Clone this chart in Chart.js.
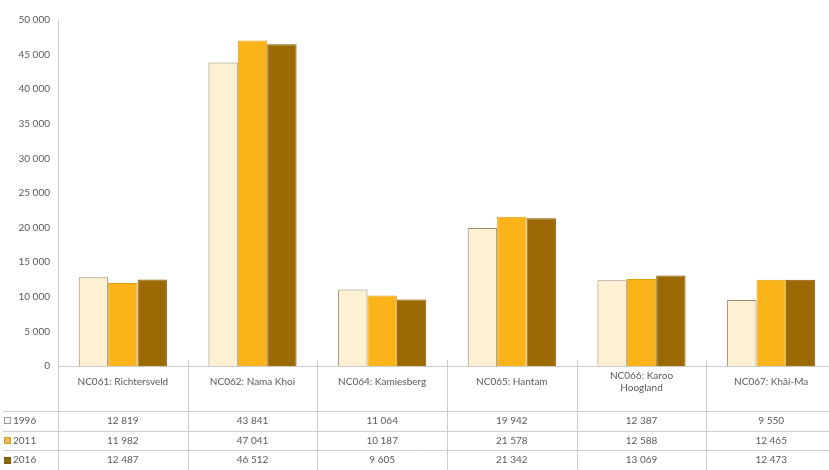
<!DOCTYPE html>
<html>
<head>
<meta charset="utf-8">
<script src="https://cdn.jsdelivr.net/npm/chart.js@4"></script>
<style>
  html, body { margin: 0; padding: 0; background: #fff; overflow: hidden; }
  #wrap { width: 840px; height: 470px; }
</style>
</head>
<body>
<div id="wrap"><canvas id="c" width="840" height="470"></canvas></div>
<script>
// Population per local municipality (Namakwa district)
const categories = ['NC061: Richtersveld', 'NC062: Nama Khoi', 'NC064: Kamiesberg', 'NC065: Hantam', ['NC066: Karoo', 'Hoogland'], 'NC067: Khâi-Ma'];
const seriesNames = ['1996', '2011', '2016'];
const values1996 = [12819, 43841, 11064, 19942, 12387, 9550];
const values2011 = [11982, 47041, 10187, 21578, 12588, 12465];
const values2016 = [12487, 46512, 9605, 21342, 13069, 12473];
const yMax = 50000;
const yStep = 5000;

const FONT = 'Lato, "Open Sans", sans-serif';
const TEXT = '#5a5a5a';
const LINE = '#cccccc';

const fills = ['#fef1d3', '#fbb31a', '#9c6a04'];
const borders = ['#9a8a6c', '#e0a010', '#86590a'];
const keyFills = ['#ffffff', '#e6b567', '#8a6a10'];

const fmt = v => String(v).replace(/\B(?=(\d{3})+(?!\d))/g, ' ');

const seriesValues = [values1996, values2011, values2016];

// Data table drawn under the category axis
const dataTable = {
  id: 'dataTable',
  afterDraw(chart) {
    const ctx = chart.ctx;
    const x = chart.scales.x;
    const area = chart.chartArea;
    const n = categories.length;
    const rowTop = x.bottom;                 // bottom of the category label row
    const rowH = (chart.height - rowTop) / 3;
    ctx.save();
    ctx.strokeStyle = LINE;
    ctx.lineWidth = 1;

    // horizontal row separators
    for (let r = 0; r < 3; r++) {
      const y = Math.round(rowTop + r * rowH) + 0.5;
      ctx.beginPath();
      ctx.moveTo(3, y);
      ctx.lineTo(area.right, y);
      ctx.stroke();
    }
    // vertical separators at category boundaries
    const step = x.getPixelForTick(1) - x.getPixelForTick(0);
    for (let i = 0; i <= n; i++) {
      const bx = Math.round(x.getPixelForTick(0) - step / 2 + i * step) + 0.5;
      ctx.beginPath();
      ctx.moveTo(bx, i === 0 ? area.bottom : area.bottom - 6);
      ctx.lineTo(bx, chart.height);
      ctx.stroke();
    }

    // values and series keys
    ctx.font = '10px ' + FONT;
    ctx.textBaseline = 'middle';
    for (let r = 0; r < 3; r++) {
      const cy = rowTop + r * rowH + rowH / 2;
      ctx.fillStyle = keyFills[r];
      ctx.fillRect(4.5, Math.round(cy - 3.5) + 0.5, 6, 6);
      ctx.strokeStyle = r === 0 ? '#9a9a9a' : borders[r];
      ctx.strokeRect(4.5, Math.round(cy - 3.5) + 0.5, 6, 6);
      ctx.fillStyle = TEXT;
      ctx.textAlign = 'left';
      ctx.fillText(seriesNames[r], 13, cy);
      ctx.textAlign = 'center';
      for (let i = 0; i < n; i++) {
        ctx.fillText(fmt(seriesValues[r][i]), x.getPixelForTick(i), cy);
      }
    }
    ctx.restore();
  }
};

new Chart(document.getElementById('c'), {
  type: 'bar',
  data: {
    labels: categories,
    datasets: seriesNames.map((name, i) => ({
      label: name,
      data: seriesValues[i],
      backgroundColor: fills[i],
      borderColor: borders[i],
      borderWidth: 1,
      borderSkipped: 'bottom'
    }))
  },
  options: {
    responsive: false,
    animation: false,
    devicePixelRatio: 1,
    layout: { padding: { top: 20, right: 4, bottom: 59, left: 0 } },
    datasets: { bar: { categoryPercentage: 0.68, barPercentage: 1.0 } },
    plugins: { legend: { display: false }, tooltip: { enabled: false } },
    scales: {
      x: {
        grid: { display: false, drawTicks: false },
        border: { display: true, color: LINE, width: 1 },
        ticks: {
          color: TEXT,
          font: { family: FONT, size: 10 },
          maxRotation: 0,
          autoSkip: false,
          padding: 10,
          crossAlign: 'center'
        },
        afterFit(scale) { scale.height = 45; }
      },
      y: {
        min: 0,
        max: yMax,
        grid: { display: false, drawTicks: false },
        border: { display: true, color: LINE, width: 1 },
        ticks: {
          stepSize: yStep,
          color: TEXT,
          font: { family: FONT, size: 10 },
          padding: 8,
          callback: v => fmt(v)
        },
        afterFit(scale) { scale.width = 58; }
      }
    }
  },
  plugins: [dataTable]
});
</script>
</body>
</html>
